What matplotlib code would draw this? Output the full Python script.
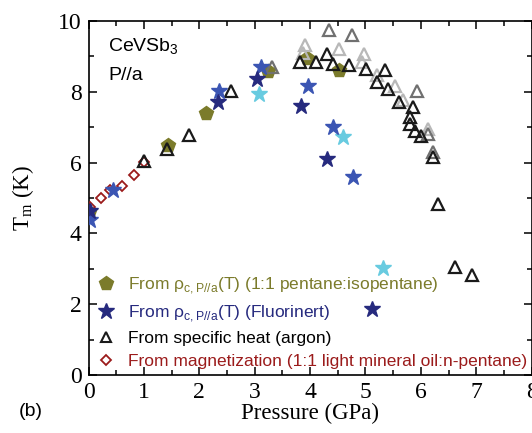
import matplotlib
matplotlib.use('Agg')
import matplotlib.pyplot as plt
from matplotlib.lines import Line2D

# --- data (pressure in GPa, T_m in K) ---
# rho_c, P//a (1:1 pentane:isopentane)
p_pent = [0.00, 1.43, 2.12, 3.24, 3.95, 4.53]
t_pent = [4.60, 6.50, 7.40, 8.60, 8.95, 8.62]

# rho_c, P//a (Fluorinert), three runs
p_fl1 = [0.02, 2.33, 3.04, 3.84, 4.31, 5.11]
t_fl1 = [4.62, 7.72, 8.35, 7.60, 6.10, 1.86]
p_fl2 = [0.02, 0.44, 2.36, 3.12, 3.96, 4.42, 4.77]
t_fl2 = [4.38, 5.23, 8.03, 8.70, 8.17, 7.00, 5.60]
p_fl3 = [3.07, 4.59, 5.31]
t_fl3 = [7.94, 6.71, 3.03]

# specific heat (argon), three runs
p_cp1 = [1.00, 1.42, 1.82, 2.57, 3.82, 4.11, 4.31, 4.41, 4.71, 5.01, 5.20, 5.36,
         5.41, 5.61, 5.86, 5.81, 5.80, 5.89, 6.01, 6.21, 6.30, 6.62, 6.92]
t_cp1 = [6.05, 6.37, 6.78, 8.03, 8.83, 8.83, 9.06, 8.78, 8.76, 8.64, 8.27, 8.62,
         8.07, 7.72, 7.58, 7.29, 7.08, 6.89, 6.75, 6.15, 4.83, 3.06, 2.82]
p_cp2 = [3.32, 4.34, 4.76, 5.93, 6.13, 6.22]
t_cp2 = [8.70, 9.75, 9.61, 8.02, 6.80, 6.31]
p_cp3 = [3.87, 3.91, 4.52, 4.93, 4.97, 5.21, 5.53, 5.68, 6.12]
t_cp3 = [9.09, 9.32, 9.20, 8.85, 9.07, 8.47, 8.15, 7.77, 6.94]

# magnetization (1:1 light mineral oil:n-pentane)
p_mag = [0.03, 0.22, 0.39, 0.61, 0.82, 1.01]
t_mag = [4.75, 4.99, 5.22, 5.35, 5.65, 6.03]

olive = '#7b7b2b'
navy = '#262a7e'
blue = '#3b55b3'
cyan = '#68cbe0'
dred = '#9b1b1b'

serif = ['Liberation Serif', 'DejaVu Serif']
sans = ['Liberation Sans', 'DejaVu Sans']

fig = plt.figure(figsize=(5.32, 4.33), dpi=100)
ax = fig.add_axes([0.1664, 0.134, 0.833, 0.8175])

ax.plot(p_pent, t_pent, 'p', color=olive, ms=10, mec=olive, zorder=2)
ax.plot(p_mag, t_mag, 'D', mfc='none', mec=dred, ms=5.5, mew=1.3, zorder=3)
ax.plot(p_cp3, t_cp3, '^', mfc='none', mec='#b8b8b8', ms=8, mew=1.6, zorder=3)
ax.plot(p_cp2, t_cp2, '^', mfc='none', mec='#707070', ms=8, mew=1.6, zorder=3)
ax.plot(p_cp1, t_cp1, '^', mfc='none', mec='#1a1a1a', ms=8, mew=1.6, zorder=4)
ax.plot(p_fl3, t_fl3, '*', color=cyan, ms=12, zorder=5)
ax.plot(p_fl2, t_fl2, '*', color=blue, ms=12, zorder=5)
ax.plot(p_fl1, t_fl1, '*', color=navy, ms=12, zorder=6)

ax.set_xlim(0, 8)
ax.set_ylim(0, 10)
ax.set_xticks(range(0, 9))
ax.set_yticks(range(0, 11, 2))
ax.set_xticks([x + 0.5 for x in range(8)], minor=True)
ax.set_yticks(range(1, 10, 2), minor=True)
ax.tick_params(which='both', direction='in', top=True, right=True, width=1.1)
ax.tick_params(which='major', length=6, labelsize=17, pad=5)
ax.tick_params(which='minor', length=3.5)
for lab in ax.get_xticklabels() + ax.get_yticklabels():
    lab.set_family(serif)
for s in ax.spines.values():
    s.set_linewidth(1.2)

ax.set_xlabel('Pressure (GPa)', fontsize=16.5, family=serif, labelpad=0)
ax.set_ylabel(r'T$_\mathregular{m}$ (K)', fontsize=16.5, family=serif, labelpad=16)

ax.text(0.045, 0.955, r'CeVSb$_\mathregular{3}$', transform=ax.transAxes,
        fontsize=14, family=sans, va='top')
ax.text(0.045, 0.87, 'P//a', transform=ax.transAxes,
        fontsize=14, family=sans, va='top')
fig.text(0.035, 0.05, '(b)', fontsize=14, family=sans, va='center')

handles = [
    Line2D([], [], ls='none', marker='p', color=olive, ms=10),
    Line2D([], [], ls='none', marker='*', color=navy, ms=12),
    Line2D([], [], ls='none', marker='^', mfc='none', mec='#1a1a1a', ms=7, mew=1.5),
    Line2D([], [], ls='none', marker='D', mfc='none', mec=dred, ms=5.5, mew=1.3),
]
labels = [
    r'From ρ$_\mathregular{c,P//a}$(T) (1:1 pentane:isopentane)',
    r'From ρ$_\mathregular{c,P//a}$(T) (Fluorinert)',
    'From specific heat (argon)',
    'From magnetization (1:1 light mineral oil:n-pentane)',
]
leg = ax.legend(handles, labels, loc='lower left', bbox_to_anchor=(-0.01, -0.012),
                frameon=False, prop={'family': sans, 'size': 12.5},
                handletextpad=0.65, labelspacing=0.42, handlelength=1.3,
                borderaxespad=0.2)
for txt, c in zip(leg.get_texts(), [olive, navy, 'black', dred]):
    txt.set_color(c)

fig.savefig('out.png', dpi=100)
